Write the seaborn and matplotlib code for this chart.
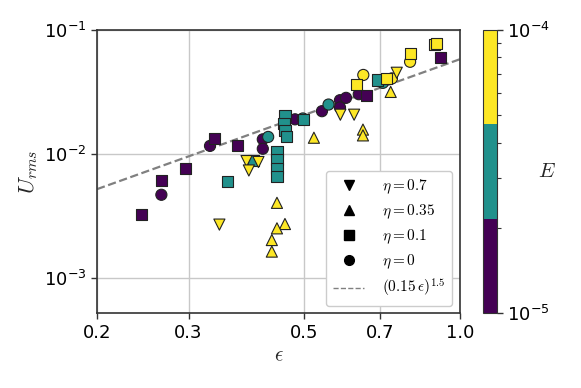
import numpy as np
import pandas as pd
import matplotlib
matplotlib.use("Agg")
import matplotlib.pyplot as plt
import seaborn as sns
from matplotlib.colors import LogNorm
from matplotlib.lines import Line2D
from matplotlib.ticker import FixedLocator, FixedFormatter, NullLocator, NullFormatter, LogLocator

# ---- data ----
E_LOW, E_MID, E_HIGH = 1e-5, 10**-4.5, 1e-4

# eta = 0 (circles)
eps_c = [0.266, 0.330, 0.417, 0.417, 0.481, 0.542, 0.587, 0.587, 0.603, 0.638,
         0.427, 0.498, 0.558, 0.710,
         0.651, 0.739, 0.801]
u_c = [4.68e-3, 1.16e-2, 1.31e-2, 1.10e-2, 1.90e-2, 2.21e-2, 2.71e-2, 2.37e-2, 2.83e-2, 3.03e-2,
       1.37e-2, 1.93e-2, 2.50e-2, 3.74e-2,
       4.33e-2, 4.06e-2, 5.53e-2]
E_c = [E_LOW] * 10 + [E_MID] * 4 + [E_HIGH] * 3

# eta = 0.1 (squares)
eps_s = [0.244, 0.266, 0.296, 0.336, 0.373, 0.659, 0.918,
         0.356, 0.400, 0.444, 0.444, 0.444, 0.444, 0.460, 0.458, 0.460, 0.463, 0.500, 0.694,
         0.632, 0.722, 0.801, 0.892, 0.899]
u_s = [3.24e-3, 6.14e-3, 7.67e-3, 1.33e-2, 1.17e-2, 2.98e-2, 5.97e-2,
       5.96e-3, 8.85e-3, 1.047e-2, 9.0e-3, 7.59e-3, 6.6e-3, 2.05e-2, 1.76e-2, 1.55e-2, 1.37e-2, 1.88e-2, 3.94e-2,
       3.63e-2, 4.06e-2, 6.48e-2, 7.56e-2, 7.8e-2]
E_s = [E_LOW] * 7 + [E_MID] * 12 + [E_HIGH] * 5

# eta = 0.35 (up triangles)
eps_u = [0.444, 0.460, 0.444, 0.434, 0.434, 0.523, 0.650, 0.650, 0.735]
u_u = [4.03e-3, 2.72e-3, 2.51e-3, 2.02e-3, 1.63e-3, 1.35e-2, 1.57e-2, 1.41e-2, 3.16e-2]
E_u = [E_HIGH] * 9

# eta = 0.7 (down triangles)
eps_d = [0.344, 0.388, 0.392, 0.409, 0.588, 0.625, 0.755]
u_d = [2.69e-3, 8.75e-3, 7.35e-3, 8.6e-3, 2.07e-2, 2.07e-2, 4.51e-2]
E_d = [E_HIGH] * 7

eta_labels = ["0.7", "0.35", "0.1", "0"]
x_ticks = [0.2, 0.3, 0.5, 0.7, 1.0]
x_tick_labels = ["0.2", "0.3", "0.5", "0.7", "1.0"]

df = pd.concat([
    pd.DataFrame({"eps": eps_c, "U": u_c, "E": E_c, "eta": "0"}),
    pd.DataFrame({"eps": eps_s, "U": u_s, "E": E_s, "eta": "0.1"}),
    pd.DataFrame({"eps": eps_u, "U": u_u, "E": E_u, "eta": "0.35"}),
    pd.DataFrame({"eps": eps_d, "U": u_d, "E": E_d, "eta": "0.7"}),
], ignore_index=True)

# ---- style ----
sns.set_style("white")
plt.rcParams["font.family"] = ["DejaVu Sans"]
plt.rcParams["mathtext.fontset"] = "cm"
plt.rcParams["text.color"] = "black"
plt.rcParams["xtick.color"] = "black"
plt.rcParams["ytick.color"] = "black"

cmap = plt.get_cmap("viridis", 3)
norm = LogNorm(vmin=1e-5, vmax=1e-4)
markers = {"0": "o", "0.1": "s", "0.35": "^", "0.7": "v"}

fig = plt.figure(figsize=(5.81, 3.88), dpi=100)
ax = fig.add_axes([0.167, 0.193, 0.625, 0.730])
cax = fig.add_axes([0.831, 0.193, 0.024, 0.730])

ax.set_xscale("log")
ax.set_yscale("log")

# reference line
eps_line = np.logspace(np.log10(0.2), 0, 100)
sns.lineplot(x=eps_line, y=(0.15 * eps_line) ** 1.5, ax=ax, color="#808080",
             linestyle="--", linewidth=1.6, zorder=2)

sns.scatterplot(data=df, x="eps", y="U", hue="E", style="eta", markers=markers,
                palette=cmap, hue_norm=norm, s=64, edgecolor="#222222",
                linewidth=0.8, legend=False, ax=ax, zorder=3)

ax.set_xlim(0.2, 1.0)
ax.set_ylim(5.2e-4, 1e-1)
ax.xaxis.set_major_locator(FixedLocator(x_ticks))
ax.xaxis.set_major_formatter(FixedFormatter(x_tick_labels))
ax.xaxis.set_minor_locator(NullLocator())
ax.xaxis.set_minor_formatter(NullFormatter())
ax.yaxis.set_minor_locator(NullLocator())
ax.grid(True, which="major", color="#c8c8c8", linewidth=1.0, zorder=0)
ax.set_axisbelow(True)
ax.tick_params(axis="both", which="major", labelsize=13, length=4, width=1,
               color="#333333", direction="out", bottom=True, left=True)
for side in ["left", "bottom", "top", "right"]:
    ax.spines[side].set_color("#333333")
    ax.spines[side].set_linewidth(1.2)

ax.set_xlabel(r"$\epsilon$", fontsize=15, labelpad=3)
ax.set_ylabel(r"$U_{rms}$", fontsize=16, labelpad=3)

# legend
handles = [
    Line2D([], [], marker="v", color="black", linestyle="none", markersize=7),
    Line2D([], [], marker="^", color="black", linestyle="none", markersize=7),
    Line2D([], [], marker="s", color="black", linestyle="none", markersize=7),
    Line2D([], [], marker="o", color="black", linestyle="none", markersize=7),
    Line2D([], [], color="#808080", linestyle="--", linewidth=1.0),
]
labels = [r"$\eta = %s$" % e for e in eta_labels] + [r"$(0.15\,\epsilon)^{1.5}$"]
ax.legend(handles, labels, loc="lower right", fontsize=11, frameon=True,
          framealpha=1, edgecolor="#cccccc", borderpad=0.45, labelspacing=0.42,
          handlelength=2.0, handletextpad=1.2, borderaxespad=0.0,
          bbox_to_anchor=(0.978, 0.024))

# colorbar
sm = matplotlib.cm.ScalarMappable(norm=norm, cmap=cmap)
cb = fig.colorbar(sm, cax=cax)
cb.outline.set_edgecolor("#333333")
cb.ax.yaxis.set_minor_locator(LogLocator(base=10, subs=np.arange(2, 10)))
cb.ax.tick_params(which="major", labelsize=13, color="#333333", length=4, width=1)
cb.ax.tick_params(which="minor", color="#333333", length=3, width=0.8, right=True)
cb.ax.set_ylabel(r"$E$", rotation=0, fontsize=15, va="center", ha="center")
cb.ax.yaxis.set_label_coords(4.6, 0.5)

fig.savefig("out.png", dpi=100)
